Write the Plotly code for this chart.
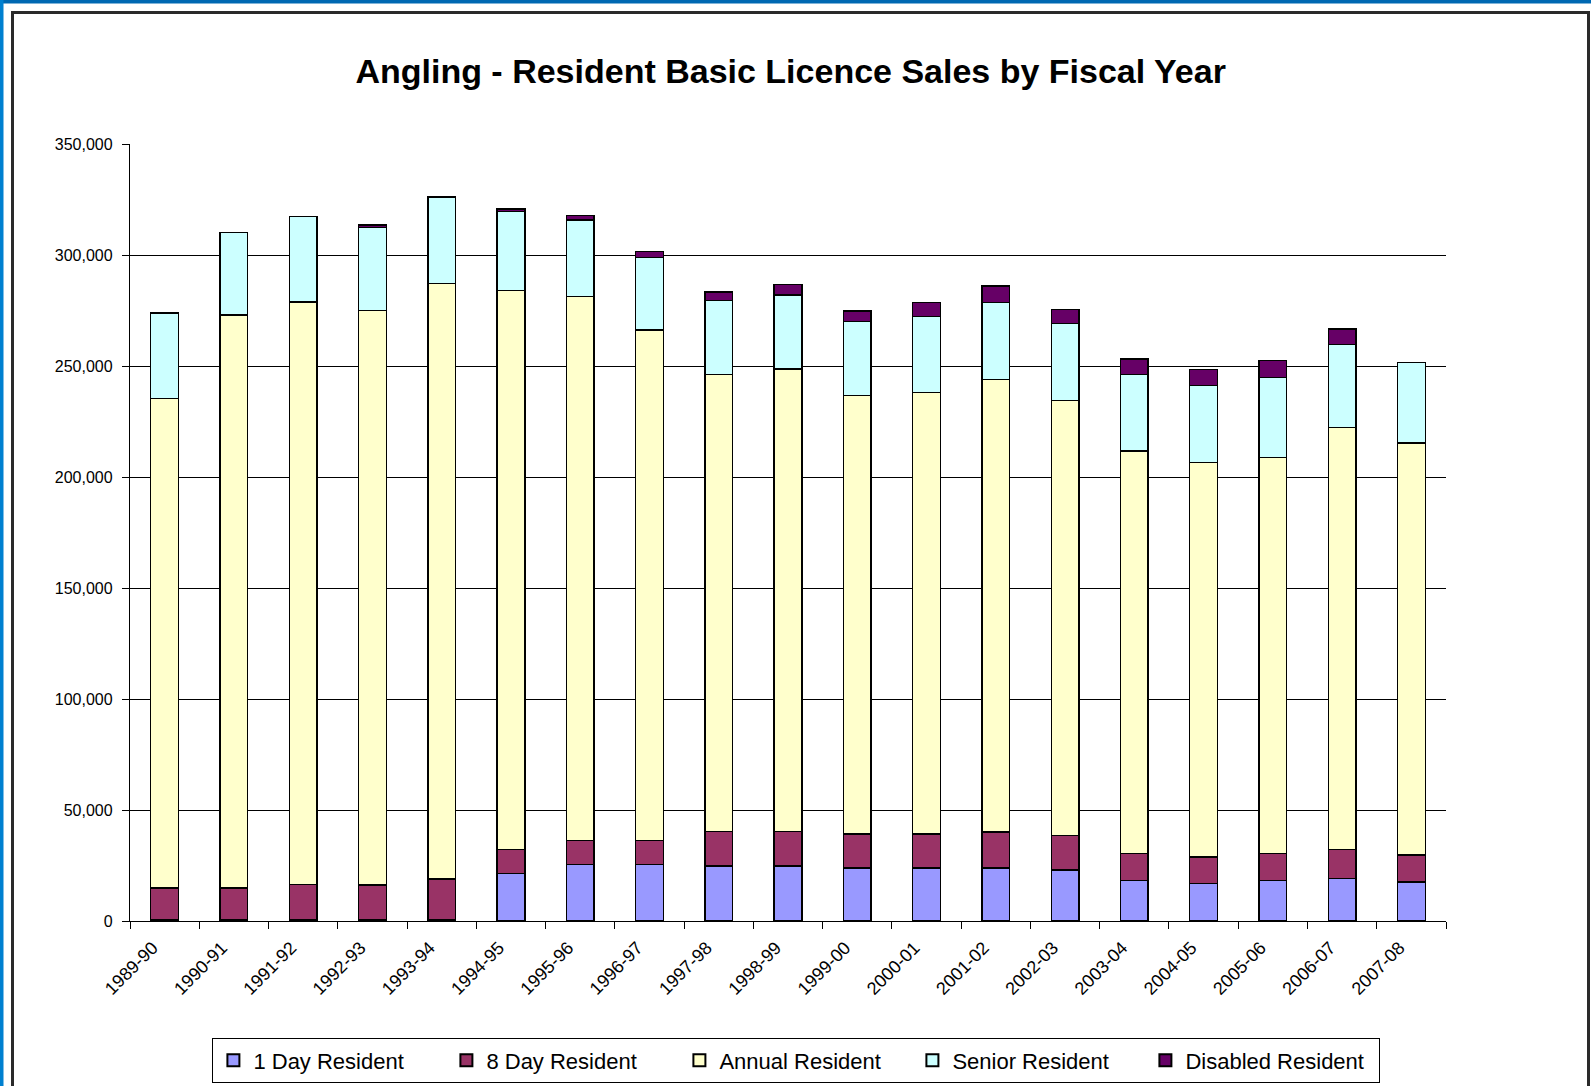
import plotly.graph_objects as go

years = ["1989-90", "1990-91", "1991-92", "1992-93", "1993-94", "1994-95", "1995-96",
         "1996-97", "1997-98", "1998-99", "1999-00", "2000-01", "2001-02", "2002-03",
         "2003-04", "2004-05", "2005-06", "2006-07", "2007-08"]

one_day = [400, 400, 400, 400, 400, 21360, 25450, 25450, 24700, 24700, 23800, 23800,
           23800, 23030, 18330, 16820, 18330, 19240, 17570]
eight_day = [14450, 14450, 15960, 15800, 18540, 10910, 10910, 10910, 15600, 15600, 15440,
             15440, 16350, 15600, 12120, 11970, 12120, 12880, 12130]
annual = [220550, 258050, 262540, 258900, 268160, 251730, 245040, 229840, 206000, 208300,
          197460, 198960, 203650, 195870, 181350, 177710, 178350, 190280, 185600]
senior = [38400, 37300, 38550, 37400, 39100, 35500, 34400, 32600, 33200, 33400, 33300,
          34000, 34900, 34700, 34300, 34700, 35900, 37400, 36200]
disabled = [0, 0, 0, 1000, 0, 1300, 2000, 2900, 3900, 4600, 4800, 6300, 7400, 6300,
            7100, 7300, 7700, 6800, 0]

series_names = ["1 Day Resident", "8 Day Resident", "Annual Resident", "Senior Resident",
                "Disabled Resident"]
series_values = [one_day, eight_day, annual, senior, disabled]
series_colors = ["#9999FF", "#993366", "#FFFFCC", "#CCFFFF", "#660066"]

y_ticks = [0, 50000, 100000, 150000, 200000, 250000, 300000, 350000]

fig = go.Figure()
for name, vals, col in zip(series_names, series_values, series_colors):
    fig.add_trace(go.Bar(
        x=years, y=vals, name=name,
        marker=dict(color=col, line=dict(color="#000000", width=1.4)),
        hovertemplate="%{x}: %{y:,}<extra>" + name + "</extra>",
    ))

L, R, T, B = 130, 145, 144, 165
W, H = 1591, 1086
pw, ph = W - L - R, H - T - B

def px(x):
    return (x - L) / pw

def py(y):
    return (H - B - y) / ph

shapes = [
    # blue outer bands
    dict(type="rect", xref="paper", yref="paper", x0=px(-5), x1=px(W + 5), y0=py(3.5), y1=py(-5),
         fillcolor="#0068B2", line=dict(width=0), layer="above"),
    dict(type="rect", xref="paper", yref="paper", x0=px(-5), x1=px(3.5), y0=py(H + 5), y1=py(-5),
         fillcolor="#0080D0", line=dict(width=0), layer="above"),
    # inner chart frame
    dict(type="rect", xref="paper", yref="paper", x0=px(12.5), x1=px(1588.5), y0=py(1095), y1=py(12.5),
         fillcolor="rgba(0,0,0,0)", line=dict(color="#2a2a2a", width=3), layer="above"),
]

fig.update_layout(
    width=W, height=H,
    barmode="stack",
    bargap=0.6,
    paper_bgcolor="white",
    plot_bgcolor="white",
    margin=dict(l=L, r=R, t=T, b=B, autoexpand=False),
    title=dict(text="<b>Angling - Resident Basic Licence Sales by Fiscal Year</b>",
               x=px(784), xanchor="center", y=1 - 71 / H, yanchor="middle",
               font=dict(family="Liberation Sans, Arial", size=34, color="#000000")),
    font=dict(family="Liberation Sans, Arial", size=15, color="#000000"),
    xaxis=dict(
        type="category", tickangle=-45, ticks="outside", tickson="boundaries",
        ticklen=7, tickcolor="#000000", showline=True, linecolor="#000000", linewidth=1.4,
        showgrid=False, tickfont=dict(size=18), ticklabelstandoff=8, ticklabelshift=-12,
    ),
    yaxis=dict(
        range=[0, 350000], tickvals=y_ticks, tickformat=",d",
        ticks="outside", ticklen=7, tickcolor="#000000",
        showline=True, linecolor="#000000", linewidth=1.4,
        showgrid=True, gridcolor="#000000", gridwidth=1,
        zeroline=False, tickfont=dict(size=16, color="#000000"), ticklabelstandoff=6,
    ),
    legend=dict(
        orientation="h", x=px(796), xanchor="center", y=py(1038), yanchor="top",
        bordercolor="#000000", borderwidth=1.4, bgcolor="white",
        font=dict(size=22), traceorder="normal",
        entrywidth=188, entrywidthmode="pixels", itemsizing="constant",
    ),
    shapes=shapes,
    showlegend=True,
)

fig.write_html("out.html",
               config={"displayModeBar": False},
               post_script="document.body.style.margin='0px';document.body.style.overflow='hidden';")
